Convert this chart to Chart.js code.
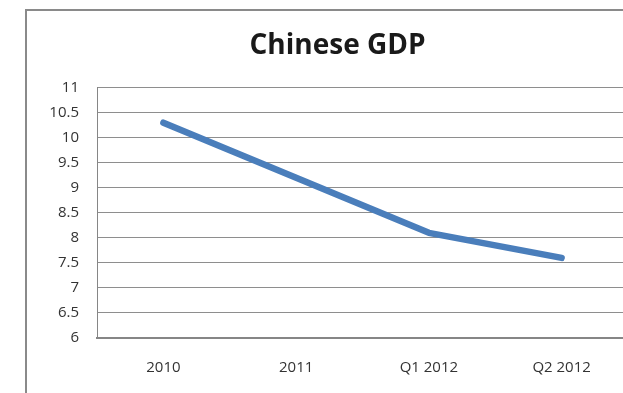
<!DOCTYPE html>
<html lang="en">
<head>
    <meta charset="UTF-8">
    <title>Chinese GDP</title>
    <style>
        html, body {
            margin: 0;
            padding: 0;
            background-color: #ffffff;
            overflow: hidden;
            width: 623px;
            height: 393px;
        }
        .frame {
            position: absolute;
            left: 25px;
            top: 9px;
            width: 700px;
            height: 500px;
            border-left: 2px solid #8a8a8a;
            border-top: 2px solid #8a8a8a;
        }
        .wrap {
            position: absolute;
            left: 0;
            top: 0;
            width: 675px;
            height: 393px;
        }
    </style>
</head>
<body>
    <div class="frame"></div>
    <div class="wrap">
        <canvas id="gdpChart" width="675" height="393"></canvas>
    </div>

    <script src="https://cdn.jsdelivr.net/npm/chart.js@4/dist/chart.umd.min.js"></script>
    <script>
        const periods = ['2010', '2011', 'Q1 2012', 'Q2 2012'];
        const gdpGrowth = [10.3, 9.2, 8.1, 7.6];
        const yTicks = [6, 6.5, 7, 7.5, 8, 8.5, 9, 9.5, 10, 10.5, 11];

        const ctx = document.getElementById('gdpChart').getContext('2d');
        new Chart(ctx, {
            type: 'line',
            data: {
                labels: periods,
                datasets: [{
                    label: 'GDP',
                    data: gdpGrowth,
                    borderColor: '#4a7ebb',
                    borderWidth: 6.5,
                    borderCapStyle: 'round',
                    borderJoinStyle: 'round',
                    pointRadius: 0,
                    tension: 0,
                    fill: false
                }]
            },
            options: {
                responsive: false,
                animation: false,
                // left padding keeps the title centred where the reference has it
                layout: { padding: { left: 47, right: 47, top: 0, bottom: 0 } },
                plugins: {
                    legend: { display: false },
                    tooltip: { enabled: false },
                    title: {
                        display: true,
                        text: 'Chinese GDP',
                        color: '#1a1a1a',
                        font: { family: 'Open Sans', size: 28, weight: 'bold' },
                        padding: { top: 29, bottom: 25 }
                    }
                },
                scales: {
                    x: {
                        offset: true,
                        grid: { display: false, drawTicks: false },
                        border: { color: '#868686', width: 2 },
                        ticks: {
                            color: '#333333',
                            font: { family: 'Open Sans', size: 15 },
                            padding: 21,
                            maxRotation: 0
                        },
                        afterFit: (scale) => { scale.height = 55; }
                    },
                    y: {
                        min: 6,
                        max: 11,
                        afterBuildTicks: (scale) => {
                            scale.ticks = yTicks.map(v => ({ value: v }));
                        },
                        grid: { color: '#8e8e8e', lineWidth: 1, drawTicks: false },
                        border: { color: '#868686', width: 1 },
                        ticks: {
                            color: '#333333',
                            font: { family: 'Open Sans', size: 15 },
                            padding: 18,
                            callback: (v) => String(v)
                        },
                        afterFit: (scale) => { scale.width = 50; }
                    }
                }
            }
        });
    </script>
</body>
</html>
